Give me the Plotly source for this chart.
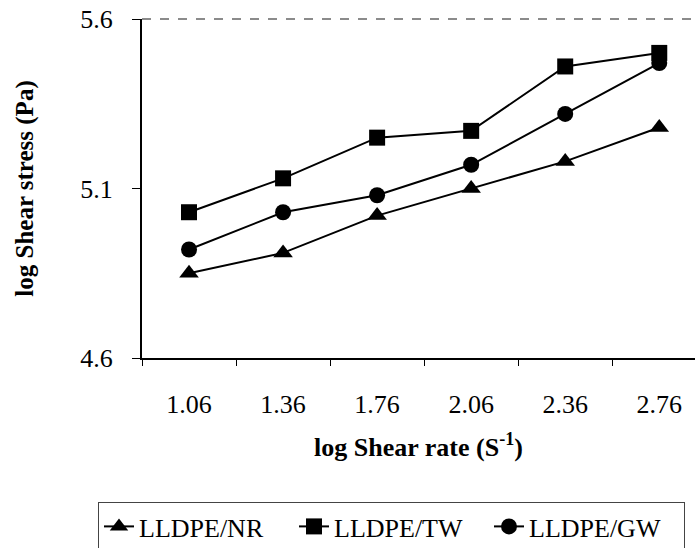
import plotly.graph_objects as go

categories = ["1.06", "1.36", "1.76", "2.06", "2.36", "2.76"]
nr_values = [4.85, 4.91, 5.02, 5.10, 5.18, 5.28]
tw_values = [5.03, 5.13, 5.25, 5.27, 5.46, 5.50]
gw_values = [4.92, 5.03, 5.08, 5.17, 5.32, 5.47]
y_ticks = [4.6, 5.1, 5.6]
y_tick_labels = ["4.6", "5.1", "5.6"]

serif = "Liberation Serif"

fig = go.Figure()
series = [
    ("LLDPE/NR", nr_values, "triangle-up", 17),
    ("LLDPE/TW", tw_values, "square", 16),
    ("LLDPE/GW", gw_values, "circle", 16),
]
for name, vals, sym, size in series:
    fig.add_trace(go.Scatter(
        x=categories, y=vals, name=name, mode="lines+markers",
        line=dict(color="black", width=2),
        marker=dict(symbol=sym, size=size, color="black"),
    ))

plot_w = 695 - 142
plot_h = 358 - 19

fig.update_layout(
    width=695, height=548,
    margin=dict(l=142, r=0, t=19, b=190, autoexpand=False),
    paper_bgcolor="white", plot_bgcolor="white",
    font=dict(family=serif, color="black"),
    showlegend=True,
    legend=dict(
        orientation="h", xref="paper", yref="paper",
        x=(98 - 142) / plot_w, y=-(502 - 358) / plot_h,
        xanchor="left", yanchor="top",
        bordercolor="#444", borderwidth=1,
        font=dict(family=serif, size=26, color="black"),
        entrywidth=150, entrywidthmode="pixels",
        itemsizing="trace",
    ),
    xaxis=dict(
        type="category", range=[-0.5, 5.38],
        tickson="boundaries", ticks="outside", ticklen=6, tickcolor="black",
        showline=True, linecolor="black", linewidth=1.5,
        showgrid=False, zeroline=False,
        tickfont=dict(family=serif, size=26, color="black"),
        ticklabelstandoff=22,
        title=dict(text="<b>log Shear rate (S<sup>-1</sup>)</b>",
                   font=dict(family=serif, size=26, color="black"), standoff=20),
    ),
    yaxis=dict(
        range=[4.6, 5.6], tickvals=y_ticks, ticktext=y_tick_labels,
        ticks="outside", ticklen=8, tickcolor="black",
        showline=True, linecolor="black", linewidth=2,
        showgrid=False, zeroline=False,
        tickfont=dict(family=serif, size=26, color="black"),
        ticklabelstandoff=14,
        title=dict(text="<b>log Shear stress (Pa)</b>",
                   font=dict(family=serif, size=25, color="black"), standoff=40),
    ),
    shapes=[dict(type="line", xref="paper", yref="paper", x0=0, x1=1, y0=1, y1=1,
                 line=dict(color="#666", width=1.5, dash="dash"))],
)

fig.write_html("out.html")
